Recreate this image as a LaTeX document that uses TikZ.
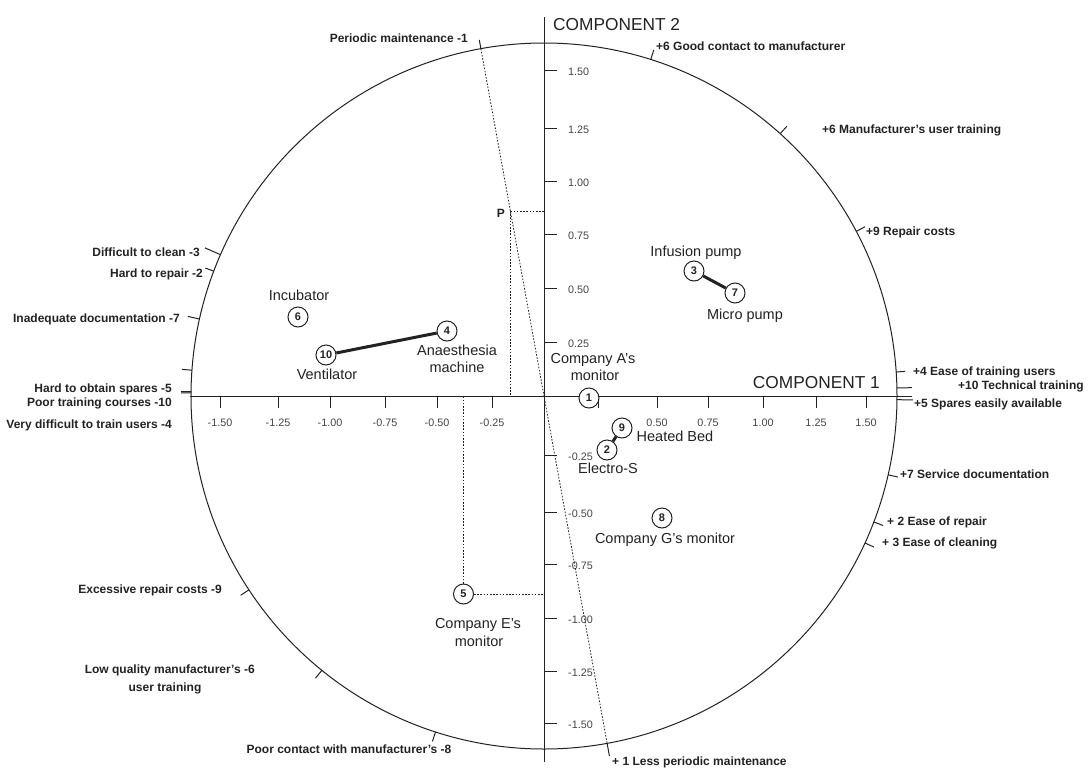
\documentclass[tikz,border=0pt]{standalone}
\usepackage{fontspec}
\setmainfont{Liberation Sans}
\usetikzlibrary{calc}
\definecolor{ink}{HTML}{222222}
\definecolor{numgray}{HTML}{444444}

\begin{document}
\begin{tikzpicture}[x=1pt,y=-1pt,
  txt/.style={inner sep=0pt, text height=0.72em, text depth=0pt, text=ink},
  attr/.style={txt, font=\fontsize{12}{13}\selectfont\bfseries},
  item/.style={txt, font=\fontsize{14.5}{17}\selectfont},
  num/.style={txt, font=\fontsize{10.8}{12}\selectfont, text=numgray},
  axtitle/.style={txt, font=\fontsize{17.3}{20}\selectfont},
  obj/.style={circle, draw=ink, line width=1pt, fill=white, minimum size=20pt,
              inner sep=0pt, font=\fontsize{11}{12}\selectfont\bfseries, text=ink},
  link/.style={line width=3pt, draw=ink},
  proj/.style={draw=ink, line width=0.8pt, dash pattern=on 1.6pt off 1.6pt},
  rim/.style={draw=ink, line width=1pt},
  axisline/.style={draw=ink, line width=1pt}]

\useasboundingbox (0,0) rectangle (1090,769);
\coordinate (O) at (544,396);

% unit circle of the loading plot
\draw[rim] (O) circle (353);

% component axes
\coordinate (xL) at (190,396);
\coordinate (xR) at (912,396);
\coordinate (yT) at (544,17);
\coordinate (yB) at (544,762);
\draw[axisline] (xL) -- (xR);
\draw[axisline] (yT) -- (yB);
\node[axtitle, anchor=west] (c2) at (553,27) {COMPONENT 2};
\node[axtitle, anchor=east] (c1) at (880,385) {COMPONENT 1};

% ticks on component 1
\foreach \v/\x [count=\i] in {-1.50/220,-1.25/278,-1.00/330,-0.75/385,-0.50/437,-0.25/492,
                              0.50/657,0.75/708,1.00/763,1.25/816,1.50/866}{
  \draw[axisline] (\x,396) -- (\x,408);
  \node[num] (xl\i) at (\x,423) {\v};
}
\draw[axisline] (598,396) -- (598,408);

% ticks on component 2
\foreach \v/\y [count=\i] in {1.50/70,1.25/128,1.00/181,0.75/234,0.50/288,0.25/342,
                              -0.25/455,-0.50/512,-0.75/564,-1.00/618,-1.25/671,-1.50/723}{
  \draw[axisline] (544,\y) -- (557,\y);
  \node[num, anchor=west] (yl\i) at (568,\y+2) {\v};
}

% variable direction marks on the rim (screen angles)
\foreach \nm/\s/\ro in {gc/-72.4/363, mu/-48/363, rc/-27.8/363, et/-3.9/362,
                        tt/-1.3/368, se/0.6/369, sd/12.9/363, er/20.9/363, ec/24.6/363,
                        dc/-156.4/370, hr/-159.3/362, id/-167.4/365, hs/-179.5/363,
                        pt/180.7/363, vd/184.2/363, xr/146.7/363, lq/129/363, pc/107.9/363}{
  \draw[rim] ($(O)+(\s:353)$) coordinate (\nm-i) -- ($(O)+(\s:\ro)$) coordinate (\nm-o);
}

% periodic maintenance direction through the origin
\coordinate (pmIn)  at ($(O)+(-100.3:353)$);
\coordinate (pmOut) at ($(O)+(-100.3:362)$);
\coordinate (lpIn)  at ($(O)+(79.7:353)$);
\coordinate (lpOut) at ($(O)+(79.7:366)$);
\draw[proj] (pmIn) -- (lpIn);
\draw[rim] (pmIn) -- (pmOut);
\draw[rim] (lpIn) -- (lpOut);

% projection of P
\coordinate (P) at (510.4,211);
\draw[proj] (P) -- (P -| O);
\draw[proj] (P) -- (P |- O);
\node[attr, anchor=east] (Plbl) at (505,214) {P};

% variable labels, right half
\node[attr, anchor=west] (a1)  at (656,47)  {+6 Good contact to manufacturer};
\node[attr, anchor=west] (a2)  at (822,130) {+6 Manufacturer's user training};
\node[attr, anchor=west] (a3)  at (866,232) {+9 Repair costs};
\node[attr, anchor=west] (a4)  at (913,372) {+4 Ease of training users};
\node[attr, anchor=west] (a5)  at (958,386) {+10 Technical training};
\node[attr, anchor=west] (a6)  at (914,404) {+5 Spares easily available};
\node[attr, anchor=west] (a7)  at (900,475) {+7 Service documentation};
\node[attr, anchor=west] (a8)  at (887,522) {+ 2 Ease of repair};
\node[attr, anchor=west] (a9)  at (882,543) {+ 3 Ease of cleaning};
\node[attr, anchor=west] (a10) at (612,762) {+ 1 Less periodic maintenance};

% variable labels, left half
\node[attr, anchor=east] (b1)  at (468,39)  {Periodic maintenance -1};
\node[attr, anchor=east] (b2)  at (200,253) {Difficult to clean -3};
\node[attr, anchor=east] (b3)  at (203,274) {Hard to repair -2};
\node[attr, anchor=east] (b4)  at (180,319) {Inadequate documentation -7};
\node[attr, anchor=east] (b5)  at (172,389) {Hard to obtain spares -5};
\node[attr, anchor=east] (b6)  at (172,403) {Poor training courses -10};
\node[attr, anchor=east] (b7)  at (172,425) {Very difficult to train users -4};
\node[attr, anchor=east] (b8)  at (222,590) {Excessive repair costs -9};
\node[attr, anchor=east] (b9)  at (255,670) {Low quality manufacturer's -6};
\node[attr]              (b9b) at (165,688) {user training};
\node[attr]              (b10) at (349,750) {Poor contact with manufacturer's -8};

% projection of equipment 5
\node[obj] (n5) at (463.5,594) {5};
\draw[proj] (n5) -- (n5 |- O);
\draw[proj] (n5) -- (n5 -| O);

% equipment scores
\node[obj] (n1)  at (589,398) {1};
\node[obj] (n2)  at (607,450) {2};
\node[obj] (n3)  at (694,271) {3};
\node[obj] (n4)  at (447,331) {4};
\node[obj] (n6)  at (298,317) {6};
\node[obj] (n7)  at (735,293) {7};
\node[obj] (n8)  at (662,518) {8};
\node[obj] (n9)  at (622,428) {9};
\node[obj] (n10) at (326,355) {10};

\draw[link] (n10) -- (n4);
\draw[link] (n3) -- (n7);
\draw[link] (n2) -- (n9);

% equipment names
\node[item] (t6)  at (299,297) {Incubator};
\node[item] (t10) at (327,376) {Ventilator};
\node[item] (t4a) at (457,352) {Anaesthesia};
\node[item] (t4b) at (457,369) {machine};
\node[item] (t3)  at (696,253) {Infusion pump};
\node[item] (t7)  at (745,316) {Micro pump};
\node[item] (t1a) at (593,360) {Company A's};
\node[item] (t1b) at (595,377) {monitor};
\node[item] (t9)  at (675,438) {Heated Bed};
\node[item] (t2)  at (608,470) {Electro-S};
\node[item] (t8)  at (665,540) {Company G's monitor};
\node[item] (t5a) at (478,625) {Company E's};
\node[item] (t5b) at (479,643) {monitor};

\end{tikzpicture}
\end{document}
